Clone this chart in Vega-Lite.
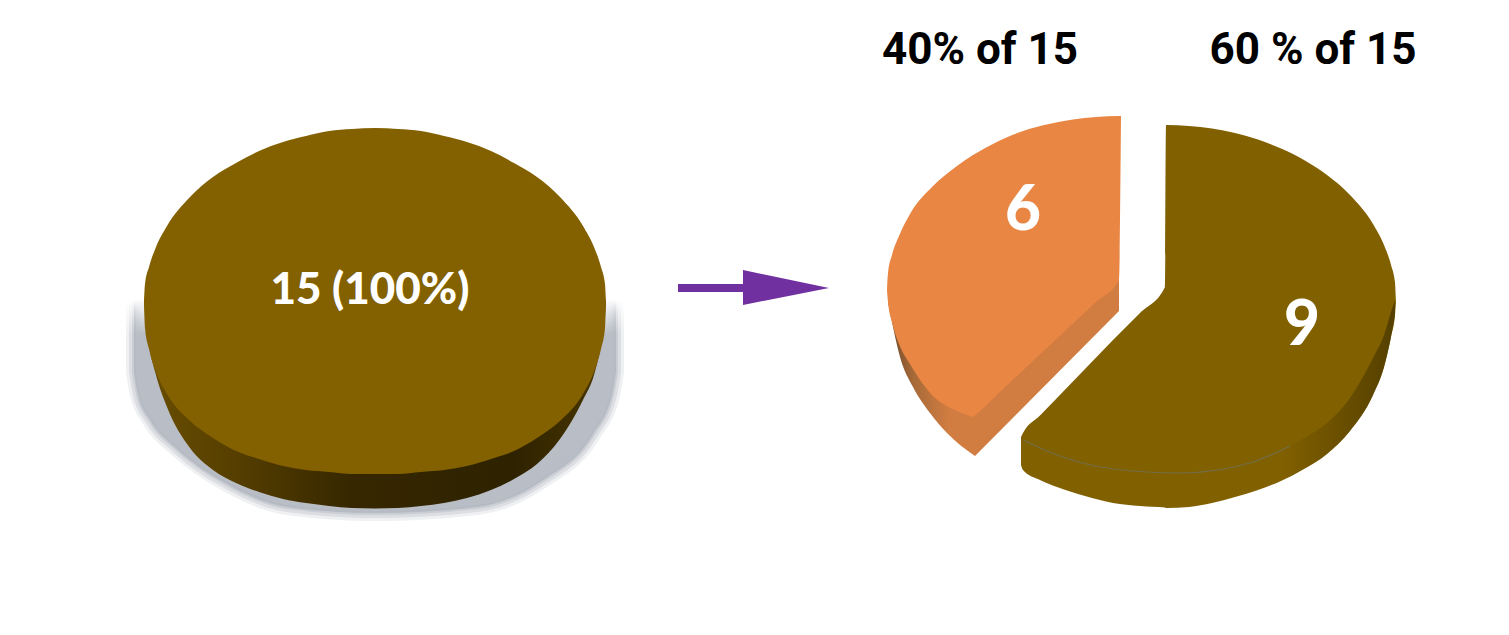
{"$schema":"https://vega.github.io/schema/vega-lite/v6.json","width":1509,"height":635,"padding":0,"autosize":{"type":"fit","contains":"padding"},"background":"white","config":{"view":{"stroke":null}},
"datasets":{
"shadow":[{"x":134,"y":300,"y2":372},{"x":138,"y":300,"y2":395},{"x":150,"y":300,"y2":420},{"x":177,"y":300,"y2":449},{"x":227,"y":300,"y2":484},{"x":287,"y":300,"y2":507},{"x":375,"y":300,"y2":513},{"x":477,"y":300,"y2":507},{"x":543,"y":300,"y2":480},{"x":593,"y":300,"y2":434},{"x":612,"y":300,"y2":395},{"x":616,"y":300,"y2":372}],
"whole_side":[{"x":144,"y":301,"y2":301},{"x":145,"y":301,"y2":315},{"x":149,"y":301,"y2":345},{"x":156,"y":301,"y2":375},{"x":167,"y":301,"y2":407},{"x":190,"y":301,"y2":448},{"x":213,"y":301,"y2":470},{"x":236,"y":301,"y2":483},{"x":259,"y":301,"y2":492},{"x":283,"y":301,"y2":499},{"x":306,"y":301,"y2":503},{"x":329,"y":301,"y2":506},{"x":352,"y":301,"y2":508},{"x":375,"y":301,"y2":508.5},{"x":398,"y":301,"y2":508},{"x":421,"y":301,"y2":506},{"x":444,"y":301,"y2":503},{"x":467,"y":301,"y2":498},{"x":491,"y":301,"y2":490},{"x":514,"y":301,"y2":479},{"x":537,"y":301,"y2":464},{"x":560,"y":301,"y2":439},{"x":583,"y":301,"y2":400},{"x":594,"y":301,"y2":375},{"x":601,"y":301,"y2":345},{"x":605,"y":301,"y2":318},{"x":606,"y":301,"y2":301}],
"whole_top":[{"x":144,"y":301,"y2":301},{"x":145,"y":284,"y2":328},{"x":149,"y":267,"y2":349},{"x":156,"y":247,"y2":372},{"x":167,"y":226,"y2":394},{"x":190,"y":197,"y2":421},{"x":213,"y":177,"y2":438},{"x":236,"y":163,"y2":451},{"x":259,"y":151,"y2":459},{"x":283,"y":142,"y2":466},{"x":306,"y":136,"y2":470},{"x":329,"y":131,"y2":472},{"x":352,"y":129,"y2":474},{"x":375,"y":128,"y2":474},{"x":398,"y":129,"y2":474},{"x":421,"y":131,"y2":472},{"x":444,"y":136,"y2":470},{"x":467,"y":142,"y2":466},{"x":491,"y":151,"y2":459},{"x":514,"y":163,"y2":451},{"x":537,"y":177,"y2":438},{"x":560,"y":197,"y2":421},{"x":583,"y":226,"y2":394},{"x":594,"y":247,"y2":372},{"x":601,"y":267,"y2":349},{"x":605,"y":284,"y2":328},{"x":606,"y":301,"y2":301}],
"shaft":[{"x":678,"y":284,"y2":292},{"x":745,"y":284,"y2":292}],
"head":[{"x":743,"y":270,"y2":305},{"x":829,"y":288,"y2":288}],
"part9":[{"x":1021,"y":437,"y2":465},{"x":1023,"y":433,"y2":470},{"x":1040,"y":415.5,"y2":480},{"x":1057,"y":398,"y2":487},{"x":1085,"y":369,"y2":496},{"x":1113,"y":340,"y2":503},{"x":1140,"y":313,"y2":506},{"x":1165,"y":287,"y2":507.5},{"x":1166,"y":125,"y2":508},{"x":1189,"y":126,"y2":507},{"x":1212,"y":128.5,"y2":503},{"x":1235,"y":133,"y2":497},{"x":1258,"y":139.5,"y2":490},{"x":1281,"y":148.5,"y2":481},{"x":1304,"y":160,"y2":469},{"x":1327,"y":175,"y2":454},{"x":1350,"y":195,"y2":431},{"x":1373,"y":224,"y2":395},{"x":1384,"y":245,"y2":367},{"x":1391,"y":265,"y2":337},{"x":1395,"y":282.5,"y2":315},{"x":1396,"y":302,"y2":302}],
"part9_shade":[{"x":1281,"y":450,"y2":481},{"x":1304,"y":438,"y2":469},{"x":1327,"y":423,"y2":454},{"x":1350,"y":398,"y2":431},{"x":1373,"y":358,"y2":395},{"x":1384,"y":335,"y2":367},{"x":1391,"y":312,"y2":337},{"x":1395,"y":300,"y2":315}],
"part9_seam":[{"x":1023,"y":440},{"x":1057,"y":455},{"x":1113,"y":469},{"x":1180,"y":473},{"x":1250,"y":463},{"x":1290,"y":446}],
"part6_side_left":[{"x":888,"y":290,"y2":302},{"x":892,"y":290,"y2":322},{"x":900,"y":290,"y2":357},{"x":913,"y":290,"y2":387},{"x":930,"y":290,"y2":413},{"x":947,"y":290,"y2":433},{"x":975,"y":290,"y2":456}],
"part6_side_right":[{"x":975,"y":290,"y2":456},{"x":1119,"y":280,"y2":311}],
"part6_top_left":[{"x":887,"y":290,"y2":290},{"x":888,"y":273,"y2":302},{"x":892,"y":255,"y2":322},{"x":899,"y":236,"y2":344},{"x":910,"y":214,"y2":364},{"x":933,"y":186,"y2":396},{"x":957,"y":166,"y2":411},{"x":973,"y":155,"y2":417}],
"part6_top_right":[{"x":973,"y":155,"y2":417},{"x":980,"y":151,"y2":411},{"x":1003,"y":139,"y2":389},{"x":1026,"y":130,"y2":367.6},{"x":1049,"y":124,"y2":346},{"x":1073,"y":119.5,"y2":323.6},{"x":1096,"y":117,"y2":302},{"x":1119,"y":116,"y2":280},{"x":1121,"y":116,"y2":116}],
"inner_labels_big":[{"label":"6","x":1023,"y":230},{"label":"9","x":1302,"y":345}],
"inner_label":[{"label":"15 (100%)","x":370,"y":304}],
"headers":[{"label":"40% of 15","x":980,"y":64},{"label":"60 % of 15","x":1313,"y":64}]
},
"encoding":{"x":{"field":"x","type":"quantitative","scale":{"domain":[0,1509],"nice":false,"zero":false},"axis":null},"y":{"field":"y","type":"quantitative","scale":{"domain":[635,0],"nice":false,"zero":false},"axis":null}},
"layer":[
{"data":{"name":"shadow"},"mark":{"type":"area","orient":"vertical","interpolate":"monotone","fillOpacity":0,"strokeWidth":16,"strokeOpacity":0.2,"strokeJoin":"round","stroke":{"gradient":"linear","x1":0,"y1":0,"x2":0,"y2":1,"stops":[{"offset":0,"color":"rgba(175,180,190,0)"},{"offset":0.16,"color":"rgb(175,180,190)"},{"offset":1,"color":"rgb(175,180,190)"}]}},"encoding":{"y2":{"field":"y2"}}},
{"data":{"name":"shadow"},"mark":{"type":"area","orient":"vertical","interpolate":"monotone","fillOpacity":0,"strokeWidth":10,"strokeOpacity":0.3,"strokeJoin":"round","stroke":{"gradient":"linear","x1":0,"y1":0,"x2":0,"y2":1,"stops":[{"offset":0,"color":"rgba(175,180,190,0)"},{"offset":0.16,"color":"rgb(175,180,190)"},{"offset":1,"color":"rgb(175,180,190)"}]}},"encoding":{"y2":{"field":"y2"}}},
{"data":{"name":"shadow"},"mark":{"type":"area","orient":"vertical","interpolate":"monotone","strokeWidth":4,"strokeOpacity":0.4,"strokeJoin":"round","stroke":{"gradient":"linear","x1":0,"y1":0,"x2":0,"y2":1,"stops":[{"offset":0,"color":"rgba(175,180,190,0)"},{"offset":0.16,"color":"rgb(175,180,190)"},{"offset":1,"color":"rgb(175,180,190)"}]},"fill":{"gradient":"linear","x1":0,"y1":0,"x2":0,"y2":1,"stops":[{"offset":0,"color":"rgba(185,190,198,0)"},{"offset":0.16,"color":"rgb(185,190,198)"},{"offset":1,"color":"rgb(185,190,198)"}]}},"encoding":{"y2":{"field":"y2"}}},
{"data":{"name":"whole_side"},"mark":{"type":"area","orient":"vertical","interpolate":"monotone","color":{"gradient":"linear","x1":0,"y1":0,"x2":1,"y2":0,"stops":[{"offset":0,"color":"#6a4e00"},{"offset":0.2,"color":"#553e00"},{"offset":0.45,"color":"#362700"},{"offset":0.8,"color":"#2e2200"},{"offset":1,"color":"#4a3700"}]}},"encoding":{"y2":{"field":"y2"}}},
{"data":{"name":"whole_top"},"mark":{"type":"area","orient":"vertical","interpolate":"monotone","color":"#836100"},"encoding":{"y2":{"field":"y2"}}},
{"data":{"name":"shaft"},"mark":{"type":"area","orient":"vertical","color":"#7030a0"},"encoding":{"y2":{"field":"y2"}}},
{"data":{"name":"head"},"mark":{"type":"area","orient":"vertical","color":"#7030a0"},"encoding":{"y2":{"field":"y2"}}},
{"data":{"name":"part6_side_left"},"mark":{"type":"area","orient":"vertical","interpolate":"monotone","color":{"gradient":"linear","x1":0,"y1":0,"x2":1,"y2":0,"stops":[{"offset":0,"color":"#6e4a2c"},{"offset":0.3,"color":"#a86a38"},{"offset":0.7,"color":"#d17d42"},{"offset":1,"color":"#d17d42"}]}},"encoding":{"y2":{"field":"y2"}}},
{"data":{"name":"part6_side_right"},"mark":{"type":"area","orient":"vertical","color":"#d17d42"},"encoding":{"y2":{"field":"y2"}}},
{"data":{"name":"part6_top_left"},"mark":{"type":"area","orient":"vertical","interpolate":"monotone","color":"#e98643"},"encoding":{"y2":{"field":"y2"}}},
{"data":{"name":"part6_top_right"},"mark":{"type":"area","orient":"vertical","interpolate":"monotone","color":"#e98643"},"encoding":{"y2":{"field":"y2"}}},
{"data":{"name":"part9"},"mark":{"type":"area","orient":"vertical","interpolate":"monotone","color":"#816000"},"encoding":{"y2":{"field":"y2"}}},
{"data":{"name":"part9_shade"},"mark":{"type":"area","orient":"vertical","interpolate":"monotone","color":{"gradient":"linear","x1":0,"y1":0,"x2":1,"y2":0,"stops":[{"offset":0,"color":"rgba(80,60,0,0)"},{"offset":1,"color":"rgba(80,60,0,0.9)"}]}},"encoding":{"y2":{"field":"y2"}}},
{"data":{"name":"part9_seam"},"mark":{"type":"line","interpolate":"monotone","color":"#6f7058","strokeWidth":1.2,"opacity":0.8}},
{"data":{"name":"inner_label"},"mark":{"type":"text","font":"Lato","fontWeight":900,"fontSize":44,"color":"white","align":"center","baseline":"alphabetic"},"encoding":{"text":{"field":"label"}}},
{"data":{"name":"inner_labels_big"},"mark":{"type":"text","font":"Lato","fontWeight":900,"fontSize":62,"color":"white","align":"center","baseline":"alphabetic"},"encoding":{"text":{"field":"label"}}},
{"data":{"name":"headers"},"mark":{"type":"text","font":"Roboto","fontWeight":"bold","fontSize":44,"color":"black","align":"center","baseline":"alphabetic"},"encoding":{"text":{"field":"label"}}}
]}
